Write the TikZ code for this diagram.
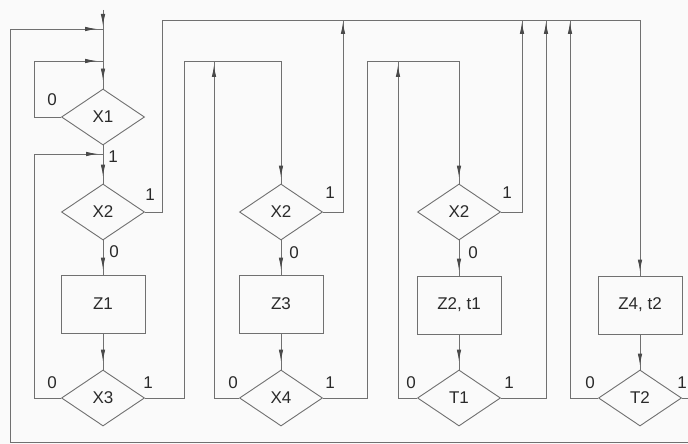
\documentclass[tikz,border=0pt]{standalone}
\usepackage{fontspec}
\setmainfont{Liberation Sans}
\usetikzlibrary{arrows.meta,decorations.markings,shapes.geometric,calc}
\definecolor{ink}{HTML}{707070}
\definecolor{tipink}{HTML}{4A4A4A}
\definecolor{txt}{HTML}{2A2A2A}
\definecolor{paper}{HTML}{FAFAFA}
\begin{document}
\begin{tikzpicture}[x=1pt,y=-1pt,
  wire/.style={draw=ink,line width=0.9pt},
  tipat/.style={postaction={decorate},decoration={markings,
      mark=at position #1 with {\arrow[tipink]{Latex[length=12pt,width=4.5pt]}}}},
  dia/.style={diamond,draw=ink,line width=0.9pt,minimum width=83pt,
      minimum height=56pt,inner sep=0pt,text=txt,
      font=\fontsize{17}{17}\selectfont},
  blk/.style={rectangle,draw=ink,line width=0.9pt,minimum width=84pt,
      minimum height=58pt,inner sep=0pt,text=txt,
      font=\fontsize{17}{17}\selectfont},
  lbl/.style={inner sep=0pt,text=txt,font=\fontsize{17}{17}\selectfont}]

\useasboundingbox (0,0) rectangle (688,444);
\fill[paper] (0,0) rectangle (688,444);
\clip (0,0) rectangle (688,444);

% decision and action blocks
\node[dia] (X1)  at (103,117) {X1};
\node[dia] (X2a) at (103,212) {X2};
\node[blk] (Z1)  at (103,304) {Z1};
\node[dia] (X3)  at (103,398) {X3};

\node[dia] (X2b) at (281,212) {X2};
\node[blk] (Z3)  at (281,304) {Z3};
\node[dia] (X4)  at (281,398) {X4};

\node[dia] (X2c) at (459,212) {X2};
\node[blk] (Z2)  at (459,305) {Z2, t1};
\node[dia] (T1)  at (459,398) {T1};

\node[blk] (Z4)  at (640,305) {Z4, t2};
\node[dia] (T2)  at (640,398) {T2};

% junctions and bus ends
\coordinate (start) at (103,10);
\coordinate (j1) at (103,29);
\coordinate (j2) at (103,61);
\coordinate (j3) at (103,154);
\coordinate (la) at (34,61);
\coordinate (lb) at (34,154);
\coordinate (bus) at (162,20);
\coordinate (busend) at (640,20);
\coordinate (ra) at (184,61);
\coordinate (rb) at (281,61);
\coordinate (sa) at (214,61);
\coordinate (ua) at (343,20);
\coordinate (rc) at (367,61);
\coordinate (rd) at (459,61);
\coordinate (sb) at (398,61);
\coordinate (ub) at (522,20);
\coordinate (uc) at (546,20);
\coordinate (ud) at (570,20);

% column 1
\draw[wire,tipat=-3pt] (start) -- (j1);
\draw[wire] (j1) -- (j2);
\draw[wire,tipat=-8pt] (j2) -- (X1.north);
\draw[wire,tipat=-7pt] (X1.south) -- (X2a.north);
\draw[wire,tipat=-5pt] (X2a.south) -- (Z1.north);
\draw[wire,tipat=-8pt] (Z1.south) -- (X3.north);
\draw[wire,tipat=-6pt] (X1.west) -| (la) -- (j2);
\draw[wire,tipat=-5pt] (X3.west) -| (lb) -- (j3);
\draw[wire,tipat=-6pt] (T2.east) -- (700,398) -- (700,442) -- (10,442) -- (10,29) -- (j1);
\draw[wire,tipat=-4pt] (X2a.east) -| (bus) -- (busend) -- (Z4.north);
\draw[wire,tipat=-6pt] (X3.east) -| (ra) -- (rb) -- (X2b.north);

% column 2
\draw[wire,tipat=-4pt] (X4.west) -| (sa);
\draw[wire,tipat=-2pt] (X2b.east) -| (ua);
\draw[wire,tipat=-5pt] (X2b.south) -- (Z3.north);
\draw[wire,tipat=-8pt] (Z3.south) -- (X4.north);
\draw[wire,tipat=-6pt] (X4.east) -| (rc) -- (rd) -- (X2c.north);

% column 3
\draw[wire,tipat=-4pt] (T1.west) -| (sb);
\draw[wire,tipat=-2pt] (X2c.east) -| (ub);
\draw[wire,tipat=-5pt] (X2c.south) -- (Z2.north);
\draw[wire,tipat=-8pt] (Z2.south) -- (T1.north);
\draw[wire,tipat=-2pt] (T1.east) -| (uc);

% column 4
\draw[wire,tipat=-2pt] (T2.west) -| (ud);
\draw[wire,tipat=-4pt] (Z4.south) -- (T2.north);

% branch labels
\node[lbl] (n1)  at (52,100)  {0};
\node[lbl] (n2)  at (113,157) {1};
\node[lbl] (n3)  at (150,195) {1};
\node[lbl] (n4)  at (114,252) {0};
\node[lbl] (n5)  at (52,383)  {0};
\node[lbl] (n6)  at (148,383) {1};
\node[lbl] (n7)  at (330,193) {1};
\node[lbl] (n8)  at (294,253) {0};
\node[lbl] (n9)  at (233,383) {0};
\node[lbl] (n10) at (330,383) {1};
\node[lbl] (n11) at (507,193) {1};
\node[lbl] (n12) at (473,253) {0};
\node[lbl] (n13) at (411,383) {0};
\node[lbl] (n14) at (509,383) {1};
\node[lbl] (n15) at (590,383) {0};
\node[lbl] (n16) at (682,383) {1};
\end{tikzpicture}
\end{document}
